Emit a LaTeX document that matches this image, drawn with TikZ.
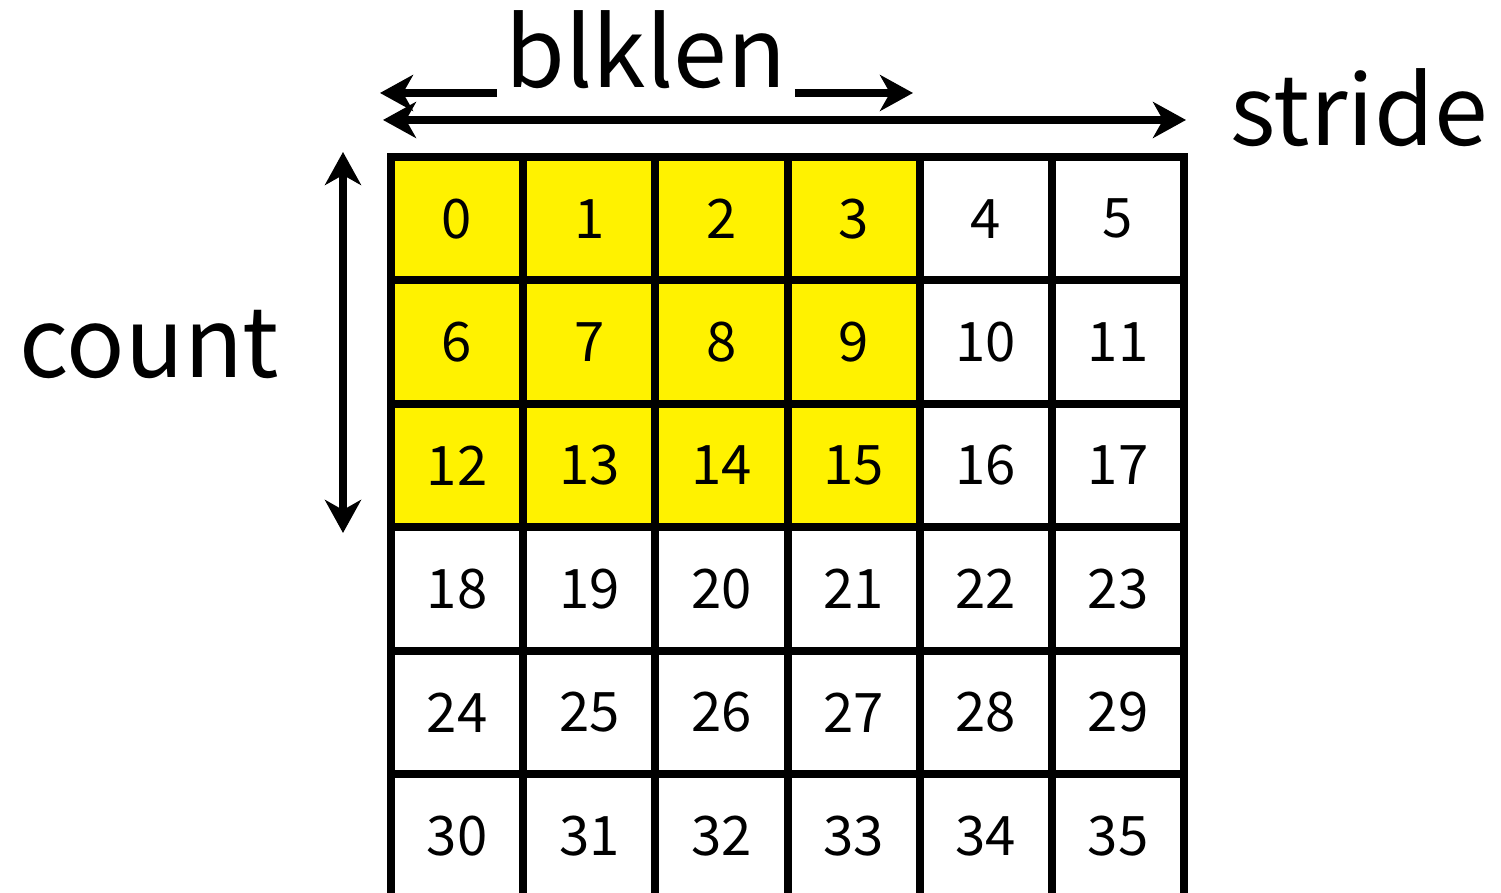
\documentclass[tikz,border=0pt]{standalone}
\usepackage{fontspec}
\setmainfont{Noto Sans CJK JP}
\usetikzlibrary{arrows.meta}
\tikzset{
  >={Stealth[length=0.33cm,width=0.36cm,inset=0.1cm]},
  cell/.style={draw, line width=0.08cm, inner sep=0pt,
    minimum width=1.322cm, minimum height=1.234cm,
    font=\fontsize{15.5}{18}\selectfont},
  bigtext/.style={font=\fontsize{27.5}{32}\selectfont}
}

\begin{document}
\begin{tikzpicture}[
% all dimension lines are as thick as the grid
dimline/.style={line width=0.08cm}]
\useasboundingbox (0,0) rectangle (15.01,8.93);
% grid of cells, upper left block in yellow
\foreach \r in {0,...,5} {
  \foreach \c in {0,...,5} {
    \pgfmathtruncatemacro{\n}{\r*6+\c}
    \pgfmathtruncatemacro{\hi}{and(\c<4,\r<3)}
    \ifnum\hi=1 \def\cellcol{yellow}\else\def\cellcol{white}\fi
    \node[cell, fill=\cellcol] (c\n) at ({3.91+(\c+0.5)*1.322}, {7.36-(\r+0.5)*1.234}) {\n};
  }
}
% count
\coordinate (cntTop) at (3.43,7.41);
\coordinate (cntBot) at (3.43,3.60);
\draw[dimline, <->] (cntTop) -- (cntBot);
\node[bigtext, anchor=base west, inner sep=0pt] (count) at (0.19,5.15) {count};
% stride
\coordinate (strL) at (3.83,7.73);
\coordinate (strR) at (11.86,7.73);
\draw[dimline, <->] (strL) -- (strR);
\node[bigtext, anchor=base west, inner sep=0pt] (stride) at (12.30,7.47) {stride};
% blklen
\node[bigtext, anchor=base, inner xsep=0.08cm] (blklen) at (6.46,8.05) {blklen};
\coordinate (blkL) at (3.80,8.00);
\coordinate (blkR) at (9.13,8.00);
\draw[dimline, ->] (blklen.west |- blkL) -- (blkL);
\draw[dimline, ->] (blklen.east |- blkR) -- (blkR);
\end{tikzpicture}
\end{document}
